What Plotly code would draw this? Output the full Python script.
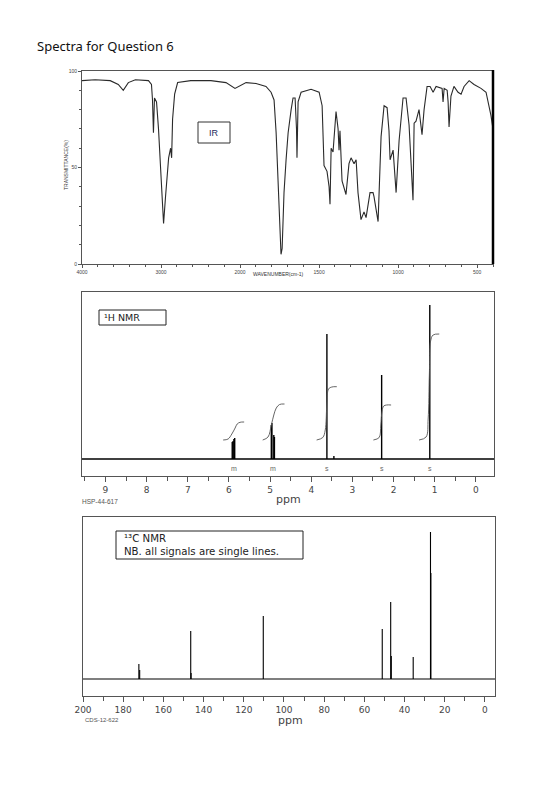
import plotly.graph_objects as go

W, H = 560, 792

# ---------------- IR data ----------------
ir_wavenumber = [4000, 3834, 3643, 3541, 3478, 3414, 3325, 3159, 3121, 3108, 3096, 3083, 3057, 3032, 3006,
                 2968, 2943, 2904, 2879, 2866, 2854, 2828, 2790, 2624, 2369, 2178, 2064, 2013, 1962, 1899,
                 1836, 1804, 1785, 1772, 1760, 1747, 1741, 1734, 1722, 1709, 1696, 1677, 1665, 1652, 1643,
                 1640, 1633, 1614, 1551, 1500, 1481, 1469, 1450, 1437, 1431, 1424, 1412, 1393, 1380, 1374,
                 1368, 1355, 1330, 1311, 1298, 1279, 1266, 1254, 1235, 1216, 1203, 1178, 1159, 1153, 1127,
                 1108, 1089, 1070, 1058, 1051, 1032, 1013, 994, 969, 950, 931, 912, 906, 899, 887,
                 868, 849, 836, 817, 798, 779, 760, 722, 716, 709, 690, 684, 678, 666, 647,
                 621, 602, 583, 551, 520, 476, 444, 413, 400]
ir_transmittance = [95, 95.5, 95, 93, 90, 94, 95.5, 95, 93, 85, 68, 86, 84, 70, 50,
                    21, 35, 55, 60, 55, 75, 88, 94, 95, 95, 94, 91, 92, 94, 93.5,
                    92, 89, 85, 68, 40, 10, 5, 8, 37, 54, 68, 80, 86, 86, 70,
                    55, 84, 89, 90.5, 89, 82, 51, 48, 40, 31, 60, 58, 79, 70, 59,
                    69, 43, 36, 52, 55, 52, 54, 37, 23, 27, 24, 37, 37, 35, 22,
                    66, 82, 81, 69, 54, 59, 37, 64, 86, 86, 72, 45, 33, 73, 74,
                    80, 67, 80, 92, 92, 89, 92, 91, 84, 91, 90, 84, 71, 87, 92,
                    89, 88, 92, 95, 93, 91, 89, 77, 70]
ir_tick_labels = [4000, 3000, 2000, 1500, 1000, 500]
ir_y_ticks = [0, 50, 100]

# ---------------- 1H NMR data ----------------
h_peak_ppm = [5.92, 5.90, 5.88, 5.86, 4.97, 4.955, 4.91, 4.895, 3.62, 3.45, 2.29, 1.12]
h_peak_height = [17, 18, 20, 21, 34, 36, 24, 22, 125, 3, 84, 154]
h_mult_ppm = [5.88, 4.94, 3.62, 2.29, 1.12]
h_mult_text = ["m", "m", "s", "s", "s"]
h_integrals = [
    ([6.14, 6.02, 5.93, 5.85, 5.80, 5.73, 5.63], [19, 20, 25, 31, 35, 36.7, 37]),
    ([5.18, 5.05, 4.97, 4.91, 4.85, 4.77, 4.65], [19, 22, 34, 44, 51, 54.5, 55]),
    ([3.87, 3.72, 3.66, 3.62, 3.58, 3.50, 3.38], [19, 21.5, 29, 55, 70, 72, 72.3]),
    ([2.49, 2.35, 2.31, 2.28, 2.24, 2.17, 2.06], [19, 21.5, 34, 48, 53, 54, 54]),
    ([1.38, 1.21, 1.16, 1.13, 1.10, 1.04, 0.89], [19, 22, 40, 85, 118, 124, 125]),
]
h_ticks = [0, 1, 2, 3, 4, 5, 6, 7, 8, 9]

# ---------------- 13C NMR data ----------------
c_peak_ppm = [172.2, 171.8, 146.4, 146.2, 110.3, 51.1, 46.9, 46.6, 35.7, 27.1, 26.9]
c_peak_height = [15, 9, 48, 6, 63, 50, 77, 23, 22, 147, 106]
c_ticks = [0, 20, 40, 60, 80, 100, 120, 140, 160, 180, 200]


def px(x):
    return x / W


def py(y):
    return 1 - y / H


def ir_pos(w):
    # SDBS IR chart: 4000-2000 compressed, 2000-400 expanded (double scale)
    return (4000 - w) / 2 if w >= 2000 else 1000 + (2000 - w)


def sticks(pos, hts, lo, hi):
    xs, ys = [lo, hi, None], [0, 0, None]
    for p, h in zip(pos, hts):
        xs += [p, p, None]
        ys += [0, h, None]
    return xs, ys


fig = go.Figure()

# IR trace
fig.add_trace(go.Scatter(x=[ir_pos(w) for w in ir_wavenumber], y=ir_transmittance,
                         mode="lines", line=dict(color="#2a2a2a", width=1.1),
                         xaxis="x", yaxis="y", showlegend=False, hoverinfo="skip"))

# 1H
H_LO, H_HI = 9.57, -0.44
hx, hy = sticks(h_peak_ppm, h_peak_height, H_LO, H_HI)
fig.add_trace(go.Scatter(x=hx, y=hy, mode="lines", line=dict(color="#000", width=1.4),
                         xaxis="x2", yaxis="y2", showlegend=False, hoverinfo="skip"))
for ix, iy in h_integrals:
    fig.add_trace(go.Scatter(x=ix, y=iy, mode="lines", line=dict(color="#555", width=0.9, shape="spline"),
                             xaxis="x2", yaxis="y2", showlegend=False, hoverinfo="skip"))

# 13C
C_LO, C_HI = 200, -5
cx, cy = sticks(c_peak_ppm, c_peak_height, C_LO, C_HI)
fig.add_trace(go.Scatter(x=cx, y=cy, mode="lines", line=dict(color="#000", width=1.1),
                         xaxis="x3", yaxis="y3", showlegend=False, hoverinfo="skip"))

frame = "#555"
SANS = "Liberation Sans, Arial"
WIDE = "DejaVu Sans"
tickfont_small = dict(family=SANS, size=5, color="#444")
tickfont_nmr = dict(family=WIDE, size=9, color="#444")

fig.update_layout(
    width=W, height=H,
    margin=dict(l=0, r=0, t=0, b=0, autoexpand=False),
    paper_bgcolor="white", plot_bgcolor="white",
    showlegend=False,
    xaxis=dict(domain=[px(82), px(493)], range=[0, 2600], anchor="y",
               tickvals=[ir_pos(t) for t in ir_tick_labels], ticktext=[str(t) for t in ir_tick_labels],
               ticks="outside", ticklen=3, tickcolor=frame, tickfont=tickfont_small,
               minor=dict(dtick=100, tick0=0, ticks="outside", ticklen=2, tickcolor=frame),
               showline=True, linecolor=frame, linewidth=1, mirror=True,
               showgrid=False, zeroline=False),
    yaxis=dict(domain=[py(264), py(71)], range=[0, 100], anchor="x",
               tickvals=ir_y_ticks, ticks="outside", ticklen=3, tickcolor=frame, tickfont=tickfont_small,
               minor=dict(dtick=10, ticks="outside", ticklen=2, tickcolor=frame),
               showline=True, linecolor=frame, linewidth=1, mirror=True,
               showgrid=False, zeroline=False),
    xaxis2=dict(domain=[px(82), px(494)], range=[H_LO, H_HI], anchor="y2",
                tickvals=h_ticks, ticks="outside", ticklen=5, tickcolor=frame, tickfont=tickfont_nmr,
                minor=dict(dtick=0.5, tick0=0, ticks="outside", ticklen=4, tickcolor=frame),
                showline=True, linecolor=frame, linewidth=1, mirror=True,
                showgrid=False, zeroline=False),
    yaxis2=dict(domain=[py(476), py(292)], range=[-17, 167], anchor="x2",
                showticklabels=False, ticks="", showline=True, linecolor=frame, linewidth=1, mirror=True,
                showgrid=False, zeroline=False),
    xaxis3=dict(domain=[px(83), px(495)], range=[C_LO, C_HI], anchor="y3",
                tickvals=c_ticks, ticks="outside", ticklen=5, tickcolor=frame, tickfont=tickfont_nmr,
                minor=dict(dtick=10, tick0=0, ticks="outside", ticklen=4, tickcolor=frame),
                showline=True, linecolor=frame, linewidth=1, mirror=True,
                showgrid=False, zeroline=False),
    yaxis3=dict(domain=[py(696), py(517)], range=[-17, 162], anchor="x3",
                showticklabels=False, ticks="", showline=True, linecolor=frame, linewidth=1, mirror=True,
                showgrid=False, zeroline=False),
)

shapes = [
    dict(type="line", xref="paper", yref="paper", x0=px(493), x1=px(493), y0=py(264), y1=py(70),
         line=dict(color="#000", width=2.5)),
    dict(type="rect", xref="paper", yref="paper", x0=px(198), x1=px(230), y0=py(143), y1=py(122),
         line=dict(color="#333", width=1), fillcolor="white"),
    dict(type="rect", xref="paper", yref="paper", x0=px(99), x1=px(166), y0=py(325), y1=py(310),
         line=dict(color="#222", width=1), fillcolor="white"),
    dict(type="rect", xref="paper", yref="paper", x0=px(116), x1=px(303), y0=py(559), y1=py(531),
         line=dict(color="#222", width=1), fillcolor="white"),
]

ann = [
    dict(text="Spectra for Question 6", x=px(35), y=py(46), xanchor="left", yanchor="middle",
         font=dict(family="Noto Sans", size=13, color="#111")),
    dict(text="TRANSMITTANCE(%)", x=px(66), y=py(165), textangle=-90, xanchor="center", yanchor="middle",
         font=dict(family=SANS, size=5, color="#333")),
    dict(text="WAVENUMBER(cm-1)", x=px(278), y=py(274), xanchor="center", yanchor="middle",
         font=dict(family=SANS, size=5, color="#333")),
    dict(text="IR", x=px(214), y=py(133), xanchor="center", yanchor="middle",
         font=dict(family=SANS, size=9, color="#1f2a5e")),
    dict(text="¹H NMR", x=px(102), y=py(317.5), xanchor="left", yanchor="middle",
         font=dict(family=WIDE, size=9.5, color="#222")),
    dict(text="HSP-44-617", x=px(80), y=py(501), xanchor="left", yanchor="middle",
         font=dict(family=SANS, size=6.5, color="#555")),
    dict(text="ppm", x=px(288), y=py(500), xanchor="center", yanchor="middle",
         font=dict(family=WIDE, size=11, color="#444")),
    dict(text="¹³C NMR", x=px(122), y=py(538), xanchor="left", yanchor="middle",
         font=dict(family=WIDE, size=10.2, color="#222")),
    dict(text="NB. all signals are single lines.", x=px(122), y=py(551), xanchor="left", yanchor="middle",
         font=dict(family=WIDE, size=10.2, color="#222")),
    dict(text="CDS-12-622", x=px(83), y=py(720), xanchor="left", yanchor="middle",
         font=dict(family=SANS, size=6, color="#555")),
    dict(text="ppm", x=px(290), y=py(720), xanchor="center", yanchor="middle",
         font=dict(family=WIDE, size=11, color="#444")),
]
for p, t in zip(h_mult_ppm, h_mult_text):
    ann.append(dict(text=t, x=p, y=-9, xref="x2", yref="y2", xanchor="center", yanchor="middle",
                    showarrow=False, font=dict(family=SANS, size=7, color="#666")))
for a in ann:
    a.setdefault("xref", "paper")
    a.setdefault("yref", "paper")
    a.setdefault("showarrow", False)

fig.update_layout(shapes=shapes, annotations=ann)
fig.write_html("out.html")
